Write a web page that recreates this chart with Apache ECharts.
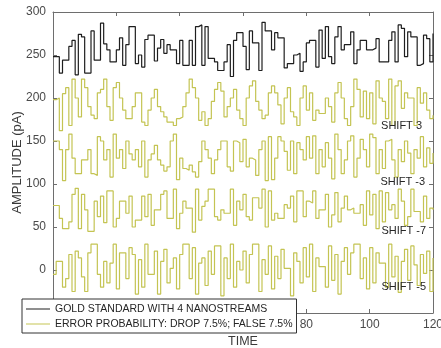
<!DOCTYPE html>
<html>
<head>
<meta charset="utf-8">
<title>nanostreams</title>
<script src="https://cdn.jsdelivr.net/npm/echarts@6/dist/echarts.min.js"></script>
<style>
  html, body { margin: 0; padding: 0; background: #fff; }
  #chart { width: 441px; height: 348px; }
</style>
</head>
<body>
<div id="chart"></div>
<script>
// time ticks and amplitude ticks
var xTicks = [0, 20, 40, 60, 80, 100, 120];
var yTicks = [-50, 0, 50, 100, 150, 200, 250, 300];

// gold standard (black), one value per time step
var gold = [248,248,229,244,244,260,267,227,274,271,
  229,229,278,244,244,287,263,256,242,242,
  256,270,238,262,283,283,240,250,236,268,
  273,273,243,258,268,252,262,256,256,240,
  267,238,238,267,238,283,285,238,283,246,
  246,242,232,232,242,262,225,267,276,276,
  260,233,278,264,264,232,288,278,278,256,
  276,270,270,235,240,240,250,252,231,242,
  264,267,267,236,279,246,283,248,240,271,
  283,256,262,262,277,240,256,267,267,256,
  256,258,269,242,242,242,267,277,242,285,
  281,248,277,271,271,238,240,273,269,242,275];

// error probability traces, one per shift
var shift3 = [198,200,162,205,212,168,222,200,178,222,
  212,190,180,176,206,210,222,190,174,212,
  218,200,186,176,176,190,206,206,172,168,
  186,200,210,190,184,178,172,172,168,176,
  178,190,206,222,212,200,174,184,168,176,
  196,210,218,208,178,190,200,210,186,176,
  168,200,214,220,196,186,176,180,206,214,
  206,192,170,200,212,184,178,168,200,214,
  186,206,174,186,182,182,200,190,172,206,
  218,200,176,168,190,222,210,178,208,176,
  206,170,220,200,196,176,222,168,214,220,
  188,206,200,200,168,212,194,206,186,176,180];

var shiftM3 = [150,150,140,104,140,158,130,112,112,128,
  128,140,112,110,155,150,128,140,108,158,
  130,140,118,150,135,128,140,120,150,108,
  128,135,145,128,122,115,120,150,158,105,
  130,118,116,122,114,108,126,150,140,130,
  112,128,140,150,150,120,115,150,148,126,
  152,120,130,128,110,140,150,104,155,105,
  130,155,150,138,116,150,112,148,140,128,
  155,130,156,112,140,120,148,130,106,158,
  140,112,128,150,156,108,130,152,140,120,
  158,154,112,140,118,150,152,128,108,140,
  126,150,136,112,140,130,155,120,142,124,136];

var shiftM7 = [75,75,60,48,48,56,88,95,48,88,
  70,45,45,80,62,86,55,92,92,50,
  60,80,80,66,86,50,58,58,86,62,
  88,52,70,70,88,92,60,60,94,48,
  66,80,72,72,44,94,58,74,80,94,
  94,62,58,70,66,66,94,52,80,70,
  88,62,58,84,84,72,94,50,92,58,
  66,60,60,76,72,86,56,92,92,62,
  80,78,92,60,70,70,88,50,64,90,
  56,72,86,70,72,66,66,76,52,92,
  64,88,48,92,56,90,70,76,60,94,
  80,52,62,94,68,68,56,86,60,72,70];

var shiftM5 = [-5,10,10,-20,-10,18,-25,22,14,-8,
  -25,20,30,30,-5,-20,10,-15,8,30,
  -22,20,20,-10,26,18,-28,12,-20,30,
  -5,-5,22,-28,10,24,-15,2,14,-22,
  18,30,30,-10,26,-28,8,14,-18,22,
  -5,28,28,-30,14,-10,30,-20,10,0,
  22,-15,18,30,30,-25,12,-5,28,-22,
  16,-10,24,2,2,-30,20,10,-15,26,
  -8,30,-25,14,4,4,-20,28,-12,18,
  -28,10,26,-5,20,30,30,-10,14,-22,
  26,-15,20,8,8,-20,30,-8,16,-26,
  10,24,-12,28,6,-18,18,-4,22,-25,14];

var shiftNames = ['SHIFT 3', 'SHIFT -3', 'SHIFT -7', 'SHIFT -5'];
var goldName = 'GOLD STANDARD WITH 4 NANOSTREAMS';
var errName = 'ERROR PROBABILITY: DROP 7.5%; FALSE 7.5%';

function pairs(arr) {
  var out = [];
  for (var i = 0; i < arr.length; i++) out.push([i, arr[i]]);
  return out;
}

var font = 'Liberation Sans, Arial, sans-serif';
var axisGray = '#6e6e6e';
var yellow = '#c4c452';

function traceSeries(name, arr, color, z) {
  return {
    name: name,
    type: 'line',
    step: 'end',
    symbol: 'none',
    silent: true,
    animation: false,
    z: z,
    lineStyle: { color: color, width: 1.2 },
    itemStyle: { color: color },
    data: pairs(arr)
  };
}

var chart = echarts.init(document.getElementById('chart'), null, { renderer: 'canvas' });

var option = {
  animation: false,
  backgroundColor: '#fff',
  grid: { left: 53, right: 8, top: 12, bottom: 35, containLabel: false, outerBoundsMode: 'none' },
  xAxis: [{
    type: 'value', min: xTicks[0], max: xTicks[xTicks.length - 1], interval: 20,
    name: 'TIME', nameLocation: 'middle', nameGap: 22, nameMoveOverlap: false,
    nameTextStyle: { fontFamily: font, fontSize: 12.5, color: '#3a3a3a' },
    axisLine: { onZero: false, lineStyle: { color: axisGray } },
    axisTick: { inside: true, length: 4, lineStyle: { color: axisGray } },
    axisLabel: { fontFamily: font, fontSize: 12, color: '#4a4a4a', margin: 6 },
    splitLine: { show: false }
  }, {
    type: 'value', position: 'top', min: xTicks[0], max: xTicks[xTicks.length - 1], interval: 20,
    axisLine: { onZero: false, lineStyle: { color: axisGray } },
    axisTick: { inside: true, length: 4, lineStyle: { color: axisGray } },
    axisLabel: { show: false }, splitLine: { show: false }
  }],
  yAxis: [{
    type: 'value', min: yTicks[0], max: yTicks[yTicks.length - 1], interval: 50,
    name: 'AMPLITUDE (pA)', nameLocation: 'middle', nameGap: 29, nameMoveOverlap: false,
    nameTextStyle: { fontFamily: font, fontSize: 13, color: '#3a3a3a' },
    axisLine: { show: true, onZero: false, lineStyle: { color: axisGray } },
    axisTick: { show: true, inside: true, length: 4, lineStyle: { color: axisGray } },
    axisLabel: { fontFamily: font, fontSize: 12, color: '#4a4a4a', margin: 7 },
    splitLine: { show: false }
  }, {
    type: 'value', position: 'right', min: yTicks[0], max: yTicks[yTicks.length - 1], interval: 50,
    axisLine: { show: true, onZero: false, lineStyle: { color: axisGray } },
    axisTick: { show: true, inside: true, length: 4, lineStyle: { color: axisGray } },
    axisLabel: { show: false }, splitLine: { show: false }
  }],
  legend: {
    orient: 'vertical', left: 22, top: 299,
    data: [
      { name: goldName, icon: 'rect', itemStyle: { color: '#1e1e1e' } },
      { name: errName, icon: 'rect', itemStyle: { color: yellow } }
    ],
    backgroundColor: '#fff', borderColor: '#333', borderWidth: 1,
    padding: [3, 4, 2, 4], itemGap: 1, itemWidth: 24, itemHeight: 1,
    textStyle: { fontFamily: font, fontSize: 10.5, color: '#262626', lineHeight: 14 },
    z: 10
  },
  graphic: [
    { type: 'text', right: 19, top: 120, z: 20, style: { text: shiftNames[0], font: '11px ' + font, fill: '#262626' } },
    { type: 'text', right: 16, top: 176, z: 20, style: { text: shiftNames[1], font: '11px ' + font, fill: '#262626' } },
    { type: 'text', right: 15, top: 225, z: 20, style: { text: shiftNames[2], font: '11px ' + font, fill: '#262626' } },
    { type: 'text', right: 15, top: 281, z: 20, style: { text: shiftNames[3], font: '11px ' + font, fill: '#262626' } }
  ],
  series: [
    traceSeries(goldName, gold, '#1e1e1e', 3),
    traceSeries(errName, shift3, yellow, 2),
    traceSeries(errName, shiftM3, yellow, 2),
    traceSeries(errName, shiftM7, yellow, 2),
    traceSeries(errName, shiftM5, yellow, 2)
  ]
};

chart.setOption(option);
</script>
</body>
</html>
